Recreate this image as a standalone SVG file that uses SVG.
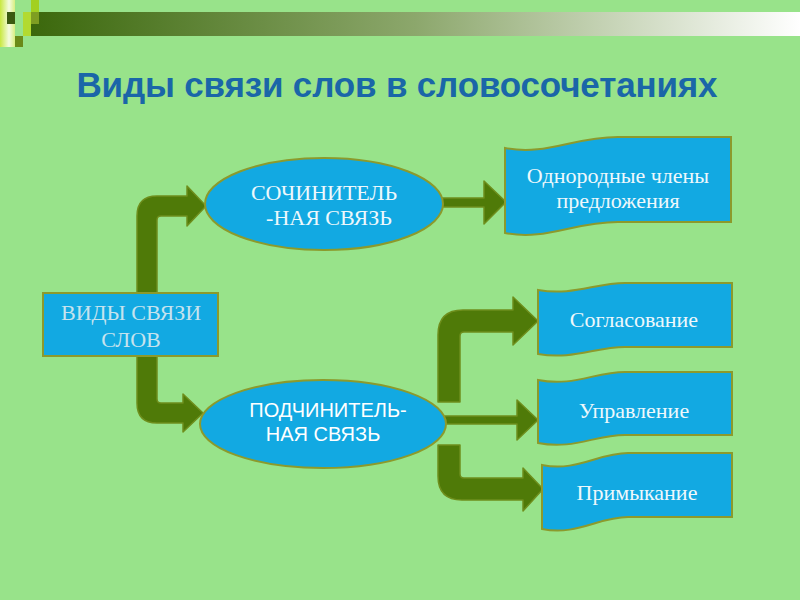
<svg xmlns="http://www.w3.org/2000/svg" width="800" height="600" viewBox="0 0 800 600">
<defs>
<linearGradient id="bar" x1="0" y1="0" x2="1" y2="0">
<stop offset="0" stop-color="#3B680C"/>
<stop offset="0.5" stop-color="#8CA76C"/>
<stop offset="1" stop-color="#FFFFFF"/>
</linearGradient>
<linearGradient id="strip" x1="0" y1="0" x2="1" y2="0">
<stop offset="0" stop-color="#C8E840"/>
<stop offset="0.6" stop-color="#F4FBE0"/>
<stop offset="1" stop-color="#D8EE80"/>
</linearGradient>
<style>
.arrow{fill:#4F7A08;stroke:#6E8E1C;stroke-width:1.5;stroke-linejoin:round}
.shape{fill:#12A9E2;stroke:#8C9A2C;stroke-width:2}
.serif{font-family:"Liberation Serif","Times New Roman",serif;text-anchor:middle;font-size:22px}
.sans{font-family:"Liberation Sans",Arial,sans-serif;text-anchor:middle}
.lt{fill:#EEF8FC}
</style>
</defs>
<rect x="0" y="0" width="800" height="600" fill="#98E38A"/>
<g id="decor">
<rect x="31" y="12" width="769" height="24" fill="url(#bar)"/>
<rect x="0" y="0" width="15" height="47" fill="url(#strip)"/>
<rect x="7" y="12" width="8" height="12" fill="#3A5A10"/>
<rect x="31" y="0" width="8" height="12" fill="#A2D020"/>
<rect x="23" y="12" width="8" height="24" fill="#B2DA30"/>
<rect x="31" y="12" width="8" height="12" fill="#7E9E22"/>
<rect x="15" y="36" width="8" height="11" fill="#6A8A18"/>
</g>
<text id="title" x="397" y="97" class="sans" font-size="35" font-weight="bold" fill="#1A66A8" textLength="641" lengthAdjust="spacing">Виды связи слов в словосочетаниях</text>
<g id="connectors">
<path class="arrow" d="M137,294 L137,216 Q137,196 157,196 L187,196 L187,186 L206,206 L187,226 L187,216 L161,216 Q157,216 157,220 L157,294 Z"/>
<path class="arrow" d="M137,355 L137,403 Q137,423 157,423 L183,423 L183,432 L203,413 L183,394 L183,403 L161,403 Q157,403 157,399 L157,355 Z"/>
<path class="arrow" d="M440,198 L484,198 L484,181 L506,202 L484,224 L484,207 L440,207 Z"/>
<path class="arrow" d="M438,402 L438,335 Q438,310 463,310 L513,310 L513,297 L538,321 L513,345 L513,332 L464,332 Q460,332 460,336 L460,402 Z"/>
<path class="arrow" d="M440,416 L517,416 L517,400 L538,420 L517,440 L517,424 L440,424 Z"/>
<path class="arrow" d="M438,445 L438,476 Q438,500 462,500 L523,500 L523,511 L543,489 L523,468 L523,478 L464,478 Q460,478 460,474 L460,445 Z"/>
</g>
<g id="n-vidy">
<rect class="shape" x="43" y="293" width="175" height="63"/>
<text class="serif" x="131" y="320" fill="#C6E3EE">ВИДЫ СВЯЗИ</text>
<text class="serif" x="131" y="347" fill="#C6E3EE">СЛОВ</text>
</g>
<g id="n-soch">
<ellipse class="shape" cx="324" cy="204" rx="119" ry="46"/>
<text class="serif lt" x="324" y="200">СОЧИНИТЕЛЬ</text>
<text class="serif lt" x="329" y="225">-НАЯ СВЯЗЬ</text>
</g>
<g id="n-podch">
<ellipse class="shape" cx="323" cy="424" rx="123" ry="44"/>
<text class="sans" x="328" y="417" font-size="20" fill="#FFFFFF">ПОДЧИНИТЕЛЬ-</text>
<text class="sans" x="323" y="441" font-size="20" fill="#FFFFFF">НАЯ СВЯЗЬ</text>
</g>
<g id="n-odnor">
<path class="shape" d="M505,148 C546,156 573,137 618,137 L731,137 L731,222 L618,222 C573,222 546,241 505,233 Z"/>
<text class="serif lt" x="618" y="183">Однородные члены</text>
<text class="serif lt" x="618" y="208">предложения</text>
</g>
<g id="n-sogl">
<path class="shape" d="M538,290 C573,296 595,283 625,283 L732,283 L732,347 L625,347 C595,347 573,360 538,354 Z"/>
<text class="serif lt" x="634" y="327">Согласование</text>
</g>
<g id="n-uprav">
<path class="shape" d="M538,380 C573,387 595,372 625,372 L732,372 L732,435 L625,435 C595,435 573,450 538,443 Z"/>
<text class="serif lt" x="634" y="418">Управление</text>
</g>
<g id="n-primyk">
<path class="shape" d="M542,465 C577,472 598,453 628,453 L732,453 L732,517 L628,517 C598,517 577,536 542,529 Z"/>
<text class="serif lt" x="637" y="500">Примыкание</text>
</g>
</svg>
